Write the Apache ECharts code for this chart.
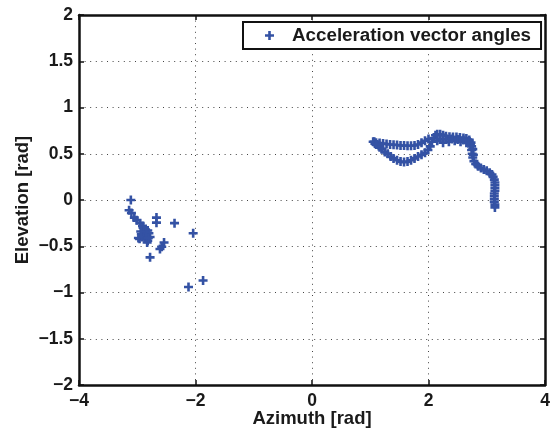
<!DOCTYPE html>
<html>
<head>
<meta charset="utf-8">
<script src="https://cdn.jsdelivr.net/npm/echarts@6/dist/echarts.min.js"></script>
<style>
html,body{margin:0;padding:0;background:#fff;}
#chart{width:552px;height:431px;}
</style>
</head>
<body>
<div id="chart"></div>
<script>
var seriesName = 'Acceleration vector angles';
var xTicks = [-4, -2, 0, 2, 4];
var yTicks = [-2, -1.5, -1, -0.5, 0, 0.5, 1, 1.5, 2];

// Left cluster (azimuth, elevation)
var leftAzimuth = [-3.11,-3.14,-3.10,-3.05,-3.01,-2.95,-2.91,-2.90,-2.86,-2.82,-2.88,-2.84,-2.80,-2.78,-2.92,-2.96,-2.86,-2.82,-2.88,-2.98,-2.83,-2.78,-2.67,-2.67,-2.36,-2.54,-2.58,-2.61,-2.04,-1.87,-2.12,-2.93,-2.89,-2.85,-2.81,-2.94];
var leftElevation = [0.00,-0.11,-0.14,-0.19,-0.22,-0.25,-0.28,-0.30,-0.32,-0.33,-0.36,-0.38,-0.36,-0.40,-0.40,-0.42,-0.42,-0.44,-0.33,-0.41,-0.46,-0.62,-0.19,-0.245,-0.25,-0.46,-0.505,-0.53,-0.36,-0.87,-0.94,-0.37,-0.39,-0.35,-0.41,-0.34];

// Right curve (azimuth, elevation)
var rightAzimuth = [1.05,1.08,1.12,1.16,1.20,1.25,1.30,1.35,1.40,1.46,1.52,1.58,1.64,1.70,1.76,1.82,1.88,1.94,1.99,2.03,2.06,2.09,2.12,
  1.10,1.16,1.22,1.28,1.34,1.40,1.46,1.52,1.58,1.64,1.70,1.76,1.82,1.88,1.94,2.00,
  2.15,2.20,2.25,2.30,2.36,2.42,2.48,2.54,2.60,2.65,2.70,
  2.15,2.25,2.35,2.45,2.55,2.65,
  2.20,2.30,2.40,2.50,2.60,2.70,2.72,2.76,2.77,1.07,1.10,
  2.73,2.74,2.74,2.75,2.76,2.78,2.81,2.85,2.90,2.95,3.00,3.05,3.09,3.11,3.13,3.14,3.14,3.14,3.14,3.13,3.13,3.13,3.13,3.14,3.14];
var rightElevation = [0.63,0.61,0.60,0.57,0.55,0.52,0.50,0.47,0.45,0.43,0.415,0.41,0.415,0.43,0.45,0.47,0.49,0.51,0.54,0.58,0.63,0.67,0.70,
  0.62,0.615,0.61,0.605,0.60,0.597,0.595,0.59,0.588,0.587,0.587,0.59,0.60,0.62,0.64,0.66,
  0.71,0.71,0.70,0.69,0.685,0.68,0.68,0.675,0.67,0.665,0.65,
  0.64,0.62,0.63,0.64,0.63,0.62,
  0.66,0.655,0.66,0.655,0.65,0.63,0.60,0.55,0.49,0.63,0.60,
  0.62,0.58,0.54,0.50,0.46,0.42,0.39,0.365,0.345,0.33,0.315,0.295,0.275,0.25,0.22,0.19,0.16,0.13,0.10,0.07,0.04,0.01,-0.02,-0.05,-0.08];

var points = [];
leftAzimuth.forEach(function(a, i){ points.push([a, leftElevation[i]]); });
rightAzimuth.forEach(function(a, i){ points.push([a, rightElevation[i]]); });

var plusPath = 'path://M3.2,0h2.6v3.2h3.2v2.6h-3.2v3.2h-2.6v-3.2h-3.2v-2.6h3.2z';
var blue = '#3452a4';
var fontFam = '"Liberation Sans", Arial, Helvetica, sans-serif';
function fmt(v){ return String(v).replace('-', '\u2212'); }

var chart = echarts.init(document.getElementById('chart'), null, {renderer:'canvas'});
var gridLine = {show:true, lineStyle:{color:'#444', width:1, type:[1,4.6]}};
var axisLine = {show:true, onZero:false, lineStyle:{color:'#111', width:2.5}};
var tick = {show:true, inside:true, length:5, lineStyle:{color:'#111', width:1.5}};
chart.setOption({
  animation:false,
  backgroundColor:'#fff',
  grid:{left:79, right:7, top:15, bottom:46, containLabel:false, outerBoundsMode:'none'},
  legend:{
    show:true, data:[{name:seriesName, icon:plusPath}],
    left:243, top:22,
    orient:'horizontal',
    backgroundColor:'#fff', borderColor:'#111', borderWidth:2,
    padding:[4, 10, 4, 22],
    itemWidth:9, itemHeight:9,
    textStyle:{fontFamily:fontFam, fontWeight:'bold', fontSize:18.8, color:'#1a1a1a', padding:[0,0,0,13]}
  },
  xAxis:[{
    type:'value', min:-4, max:4, interval:2, position:'bottom',
    name:'Azimuth [rad]', nameLocation:'middle', nameGap:24, nameMoveOverlap:false,
    nameTextStyle:{fontFamily:fontFam, fontWeight:'bold', fontSize:18.5, color:'#1a1a1a'},
    axisLine:axisLine, axisTick:tick,
    axisLabel:{formatter:fmt, fontFamily:fontFam, fontWeight:'bold', fontSize:17.5, color:'#1a1a1a', margin:7},
    splitLine:gridLine
  },{
    type:'value', min:-4, max:4, interval:2, position:'top',
    axisLine:axisLine, axisTick:tick,
    axisLabel:{show:false}, splitLine:{show:false}
  }],
  yAxis:[{
    type:'value', min:-2, max:2, interval:0.5, position:'left',
    name:'Elevation [rad]', nameLocation:'middle', nameGap:47, nameRotate:90, nameMoveOverlap:false,
    nameTextStyle:{fontFamily:fontFam, fontWeight:'bold', fontSize:18.5, color:'#1a1a1a'},
    axisLine:axisLine, axisTick:tick,
    axisLabel:{formatter:fmt, fontFamily:fontFam, fontWeight:'bold', fontSize:17.5, color:'#1a1a1a', margin:6},
    splitLine:gridLine
  },{
    type:'value', min:-2, max:2, interval:0.5, position:'right',
    axisLine:axisLine, axisTick:tick,
    axisLabel:{show:false}, splitLine:{show:false}
  }],
  series:[{
    name:seriesName, type:'scatter', xAxisIndex:0, yAxisIndex:0,
    data:points, symbol:plusPath, symbolSize:9,
    itemStyle:{color:blue, opacity:1}
  }]
});
</script>
</body>
</html>
